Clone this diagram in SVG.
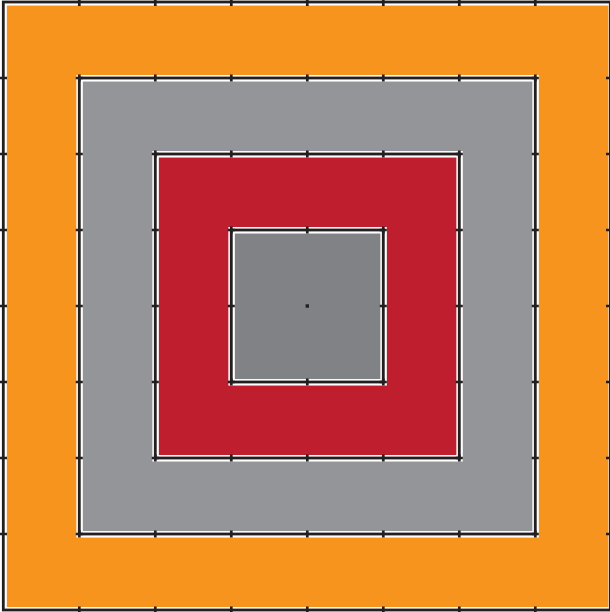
<svg xmlns="http://www.w3.org/2000/svg" width="610" height="612" viewBox="0 0 610 612">
<style>
.w{fill:none;stroke:#ffffff;stroke-width:6.5}
.k{fill:none;stroke:#231f20;stroke-width:2.8}
.t{stroke:#231f20;stroke-width:2.7}
</style>
<rect width="610" height="612" fill="#ffffff"/>
<g id="orange">
<rect x="3.3" y="2" width="608" height="608" fill="#f7941d"/>
</g>
<g id="gray">
<rect x="79.3" y="78" width="456" height="456" fill="#939598"/>
</g>
<g id="red">
<rect x="155.3" y="154" width="304" height="304" fill="#be1e2d"/>
</g>
<g id="center">
<rect x="231.3" y="230" width="152" height="152" fill="#808285"/>
</g>
<g id="outlines">
<rect class="w" x="3.6" y="2.3" width="608" height="608"/>
<rect class="w" x="79.6" y="78.3" width="456" height="456"/>
<rect class="w" x="155.6" y="154.3" width="304" height="304"/>
<rect class="w" x="231.6" y="230.3" width="152" height="152"/>
<rect class="k" x="3.3" y="2" width="607" height="608"/>
<rect class="k" x="79.3" y="78" width="456" height="456"/>
<rect class="k" x="155.3" y="154" width="304" height="304"/>
<rect class="k" x="231.3" y="230" width="152" height="152"/>
</g>
<g id="ticks">
<path class="t" d="M79.3 -1v7M155.3 -1v7M231.3 -1v7M307.3 -1v7M383.3 -1v7M459.3 -1v7M535.3 -1v7
M79.3 606.5v7M155.3 606.5v7M231.3 606.5v7M307.3 606.5v7M383.3 606.5v7M459.3 606.5v7M535.3 606.5v7
M0 78h7M0 154h7M0 230h7M0 306h7M0 382h7M0 458h7M0 534h7
M606 78h7M606 154h7M606 230h7M606 306h7M606 382h7M606 458h7M606 534h7
M79.3 74.5v7M155.3 74.5v7M231.3 74.5v7M307.3 74.5v7M383.3 74.5v7M459.3 74.5v7M535.3 74.5v7
M79.3 530.5v7M155.3 530.5v7M231.3 530.5v7M307.3 530.5v7M383.3 530.5v7M459.3 530.5v7M535.3 530.5v7
M75.8 78h7M75.8 154h7M75.8 230h7M75.8 306h7M75.8 382h7M75.8 458h7M75.8 534h7
M531.8 78h7M531.8 154h7M531.8 230h7M531.8 306h7M531.8 382h7M531.8 458h7M531.8 534h7
M155.3 150.5v7M231.3 150.5v7M307.3 150.5v7M383.3 150.5v7M459.3 150.5v7
M155.3 454.5v7M231.3 454.5v7M307.3 454.5v7M383.3 454.5v7M459.3 454.5v7
M151.8 154h7M151.8 230h7M151.8 306h7M151.8 382h7M151.8 458h7
M455.8 154h7M455.8 230h7M455.8 306h7M455.8 382h7M455.8 458h7
M231.3 226.5v7M307.3 226.5v7M383.3 226.5v7
M231.3 378.5v7M307.3 378.5v7M383.3 378.5v7
M227.8 230h7M227.8 306h7M227.8 382h7
M379.8 230h7M379.8 306h7M379.8 382h7"/>
<rect x="305.6" y="304.3" width="3.4" height="3.4" fill="#231f20"/>
</g>
</svg>
